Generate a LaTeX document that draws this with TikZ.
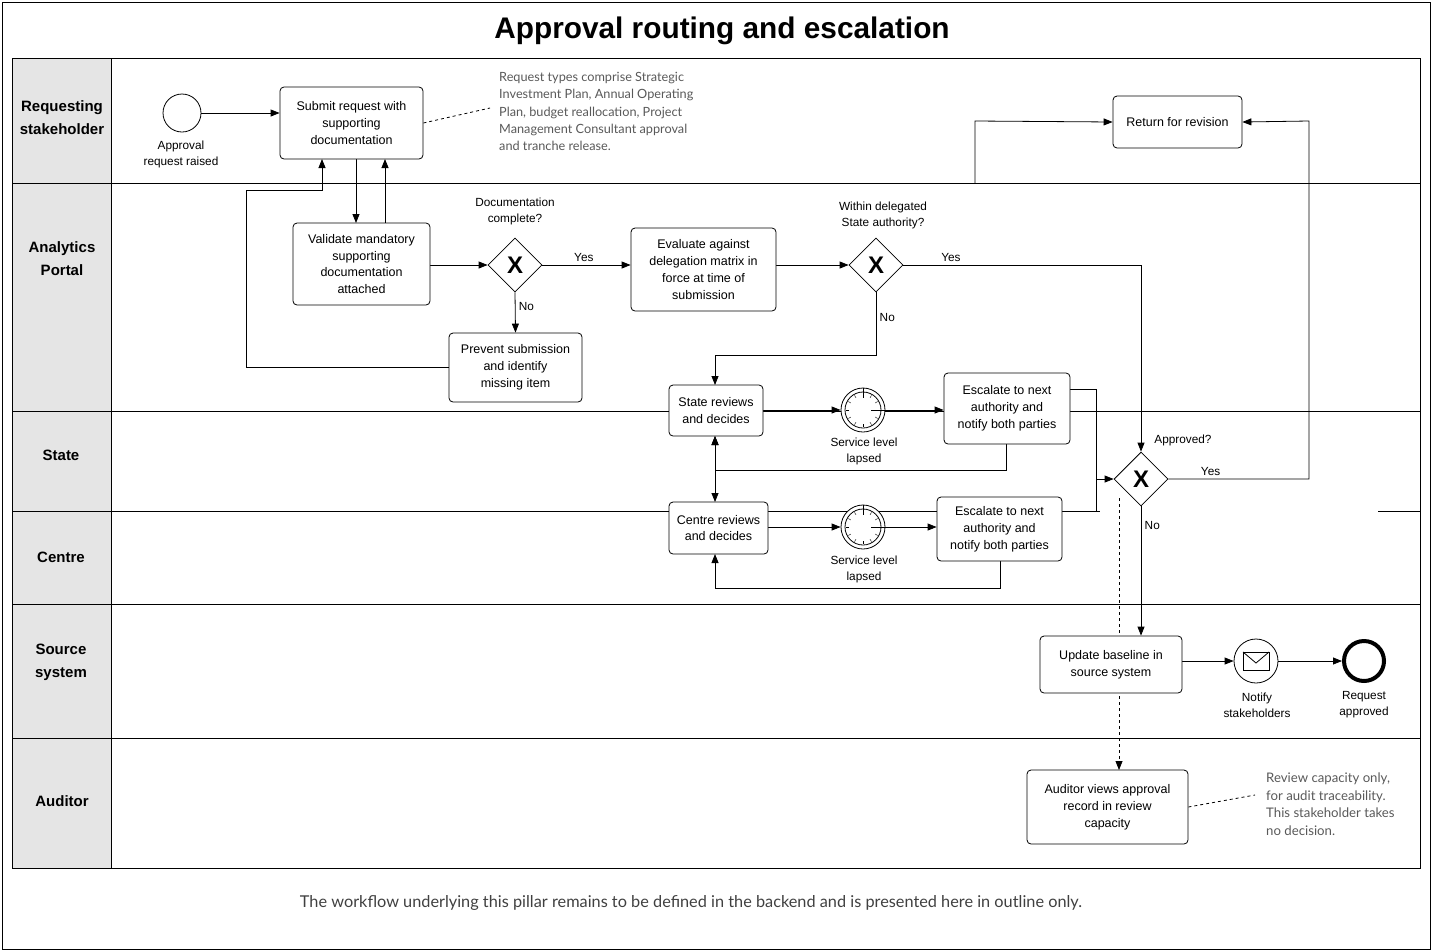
\documentclass[tikz,border=0pt]{standalone}
\usepackage{fontspec}
\setmainfont{Liberation Sans}
\newfontfamily\latof{Lato}
\usetikzlibrary{arrows.meta,shapes.geometric,calc}
\pgfdeclarelayer{bg}
\pgfsetlayers{bg,main}
\begin{document}
\begin{tikzpicture}[x=1pt,y=-1pt,
  task/.style={draw,rounded corners=4pt,thick,fill=white,align=center,font=\fontsize{12.5}{16.8}\selectfont,inner sep=2pt},
  gw/.style={draw,thick,diamond,minimum width=54pt,minimum height=54pt,inner sep=0pt,fill=white,font=\fontsize{24}{24}\selectfont\bfseries},
  ev/.style={draw,thick,circle,inner sep=0pt,fill=white},
  lbl/.style={font=\fontsize{11.8}{16}\selectfont,align=center},
  ann/.style={font=\latof\fontsize{12.7}{17.3}\selectfont,text=black!65,align=left,anchor=north west,inner sep=0pt},
  lane/.style={font=\fontsize{15}{23}\selectfont\bfseries,align=center},
  arr/.style={thick,-{Triangle[length=9pt,width=7pt]}},
  darr/.style={thick,{Triangle[length=9pt,width=7pt]}-{Triangle[length=9pt,width=7pt]}}]
\useasboundingbox (0,0) rectangle (1432,951);
\draw[thick] (2,2) rectangle (1430,949);
\node[font=\fontsize{29.8}{32}\selectfont\bfseries] (title) at (722,31) {Approval routing and escalation};
\node[lane] (l1) at (62,118) {Requesting\\stakeholder};
\node[lane] (l2) at (62,259) {Analytics\\Portal};
\node[lane] (l3) at (61,455) {State};
\node[lane] (l4) at (61,557) {Centre};
\node[lane] (l5) at (61,662) {Source\\system};
\node[lane] (l6) at (62,801) {Auditor};
% nodes
\node[ev,minimum size=38pt] (start) at (182,113) {};
\node[lbl] (startl) at (181,154) {Approval\\request raised};
\node[task,minimum width=143pt,minimum height=72pt] (submit) at (351.5,123) {Submit request with\\supporting\\documentation};
\node[ann] (ann1) at (499,72) {Request types comprise Strategic\\Investment Plan, Annual Operating\\Plan, budget reallocation, Project\\Management Consultant approval\\and tranche release.};
\node[task,minimum width=129pt,minimum height=52pt] (ret) at (1177.5,122) {Return for revision};
\node[task,minimum width=137pt,minimum height=82pt] (valid) at (361.5,264) {Validate mandatory\\supporting\\documentation\\attached};
\node[gw] (g1) at (515,265) {X};
\node[lbl] (g1l) at (515,211) {Documentation\\complete?};
\node[task,minimum width=145pt,minimum height=83pt] (eval) at (703.5,269.5) {Evaluate against\\delegation matrix in\\force at time of\\submission};
\node[gw] (g2) at (876,265) {X};
\node[lbl] (g2l) at (883,215) {Within delegated\\State authority?};
\node[task,minimum width=133pt,minimum height=69pt] (prev) at (515.5,367.5) {Prevent submission\\and identify\\missing item};
\node[task,minimum width=94pt,minimum height=51pt] (srev) at (716,410.5) {State reviews\\and decides};
\node[ev,minimum size=44pt] (t1) at (863,410) {};
\node[lbl] (t1l) at (864,451) {Service level\\lapsed};
\node[task,minimum width=126pt,minimum height=71pt] (esc1) at (1007,408.5) {Escalate to next\\authority and\\notify both parties};
\node[task,minimum width=99pt,minimum height=52pt] (crev) at (718.5,528) {Centre reviews\\and decides};
\node[ev,minimum size=44pt] (t2) at (863,527) {};
\node[lbl] (t2l) at (864,569) {Service level\\lapsed};
\node[task,minimum width=125pt,minimum height=64pt] (esc2) at (999.5,529) {Escalate to next\\authority and\\notify both parties};
\node[gw] (g3) at (1141,479) {X};
\node[lbl] (g3l) at (1183,440) {Approved?};
\node[task,minimum width=142pt,minimum height=57pt] (upd) at (1111,664.5) {Update baseline in\\source system};
\node[ev,minimum size=44pt] (msg) at (1256,661) {};
\node[lbl] (msgl) at (1257,705) {Notify\\stakeholders};
\node[ev,minimum size=40pt,line width=4pt] (end) at (1364,661) {};
\node[lbl] (endl) at (1364,705) {Request\\approved};
\node[task,minimum width=161pt,minimum height=74pt] (aud) at (1107.5,807) {Auditor views approval\\record in review\\capacity};
\node[ann,font=\latof\fontsize{13.2}{17.5}\selectfont] (ann2) at (1266,773) {Review capacity only,\\for audit traceability.\\This stakeholder takes\\no decision.};
% timer glyphs
\foreach \t in {t1,t2}{
  \draw[thick] (\t) circle (18pt);
  \foreach \a in {0,30,...,330} \draw ($(\t)+(\a:14pt)$) -- ($(\t)+(\a:17pt)$);
  \draw[thick] (\t) -- ++(0,-12) (\t) -- ++(8,0);
}
% envelope
\draw[thick] ($(msg)+(-13,-9)$) rectangle ($(msg)+(13,9)$);
\draw[thick] ($(msg)+(-13,-9)$) -- ($(msg)+(0,2)$) -- ($(msg)+(13,-9)$);
\begin{pgfonlayer}{bg}
% pool
\fill[black!10] (12,58) rectangle (111,868);
\draw[thick] (12,58) rectangle (1420,868);
\draw[thick] (111,58) -- (111,868);
\foreach \yy in {183,411,604,738} \draw[thick] (12,\yy) -- (1420,\yy);
\draw[thick] (12,511) -- (1100,511);
\draw[thick] (1378,511) -- (1420,511);
% connectors
\draw[arr] (start) -- (submit.west|-start);
\draw[thick,dashed] (submit.east) -- (490,108);
\draw[arr] (356,159) -- (356,223);
\draw[arr] (385,223) -- (385,159);
\draw[arr] (prev.west) -- (246,367.5) -- (246,190) -- (322,190) -- (322,159);
\draw[arr] (valid.east|-g1) -- (g1.west);
\draw[arr] (g1.east) -- node[lbl,above,pos=0.47]{Yes} (eval.west|-g1);
\draw[arr] (g1.south) -- node[lbl,right,pos=0.35]{No} (prev.north);
\draw[arr] (eval.east|-g2) -- (g2.west);
\draw[arr] (g2.east) -- node[lbl,above,pos=0.2]{Yes} (1141,265) -- (g3.north);
\draw[arr] (g2.south) -- node[lbl,right,pos=0.4]{No} (876,355) -- (715,355) -- (715,385);
\draw[arr] (srev.east|-t1) -- (t1.west);
\draw[arr] (t1.east) -- (esc1.west|-t1);
\draw[arr] (1006,444) -- (1006,470) -- (715,470) -- (715,436);
\draw[darr] (715,436) -- (715,502);
\draw[arr] (crev.east|-t2) -- (t2.west);
\draw[arr] (t2.east) -- (esc2.west|-t2);
\draw[arr] (1000,561) -- (1000,588) -- (715,588) -- (715,554);
\draw[thick] (1070,389) -- (1096,389) -- (1096,511) -- (1062,511);
\draw[arr] (1096,479) -- (g3.west);
\draw[arr] (g3.east) -- node[lbl,above,pos=0.3]{Yes} (1309,479) -- (1309,121) -- (ret.east);
\draw[arr] (975,183) -- (975,121) -- (ret.west);
\draw[arr] (g3.south) -- node[lbl,right,pos=0.15]{No} (upd.north-|g3);
\draw[arr,dashed] (1119,498) -- (1119,770);
\draw[arr] (upd.east|-msg) -- (msg.west);
\draw[arr] (msg.east) -- (end.west);
\draw[thick,dashed] (aud.east) -- (1255,795);
\end{pgfonlayer}
\node[font=\latof\fontsize{16.3}{18}\selectfont,text=black!75] (foot) at (691,903) {The workflow underlying this pillar remains to be defined in the backend and is presented here in outline only.};
\end{tikzpicture}
\end{document}
